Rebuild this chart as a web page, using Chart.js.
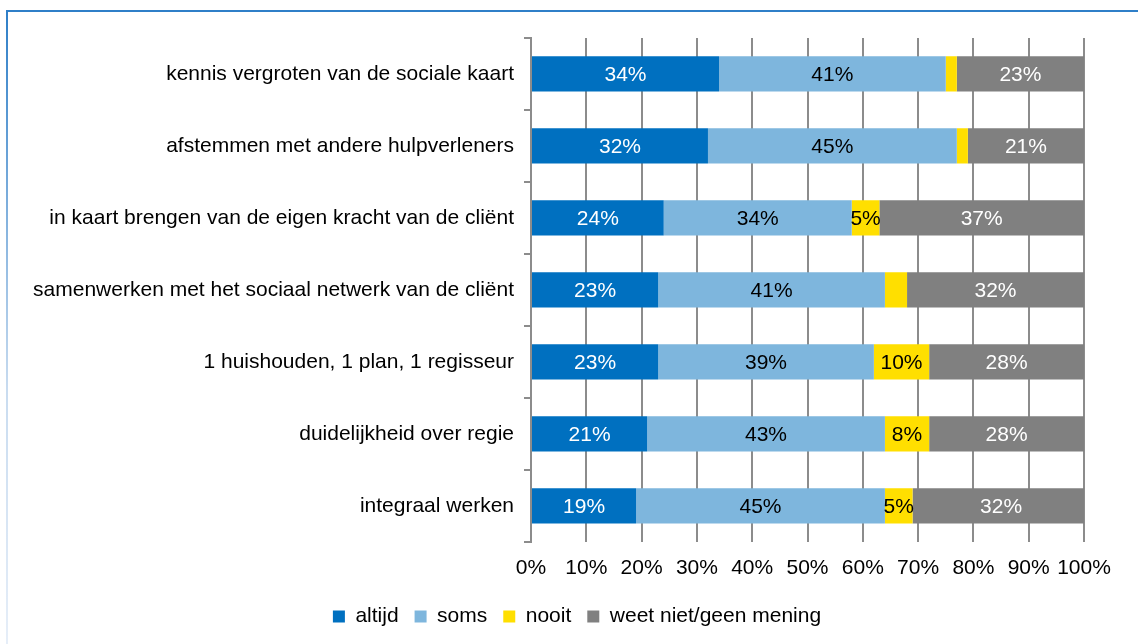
<!DOCTYPE html>
<html>
<head>
<meta charset="utf-8">
<script src="https://cdn.jsdelivr.net/npm/chart.js@4/dist/chart.umd.min.js"></script>
<style>
  html, body { margin: 0; padding: 0; background: #fff; }
  body { width: 1138px; height: 644px; position: relative; overflow: hidden; font-family: "Liberation Sans", Arial, sans-serif; }
  #frame {
    position: absolute; left: 6px; top: 10px; width: 1132px; height: 634px;
    border-top: 2px solid #2f7fc8;
    box-sizing: border-box;
  }
  #frame:before {
    content: ""; position: absolute; left: 0; top: 0; width: 2px; height: 100%;
    background: linear-gradient(#2f7fc8, #c9dcf0 60%, #e6eef8);
  }
  #wrap { position: absolute; left: 2px; top: 0; width: 1130px; height: 632px; }
</style>
</head>
<body>
<div id="frame"><div id="wrap"><canvas id="bargraph"></canvas></div></div>
<script>
const categories = [
  "kennis vergroten van de sociale kaart",
  "afstemmen met andere hulpverleners",
  "in kaart brengen van de eigen kracht van de cliënt",
  "samenwerken met het sociaal netwerk van de cliënt",
  "1 huishouden, 1 plan, 1 regisseur",
  "duidelijkheid over regie",
  "integraal werken"
];
const altijd = [34, 32, 24, 23, 23, 21, 19];
const soms = [41, 45, 34, 41, 39, 43, 45];
const nooit = [2, 2, 5, 4, 10, 8, 5];
const weetNiet = [23, 21, 37, 32, 28, 28, 32];
const seriesNames = ["altijd", "soms", "nooit", "weet niet/geen mening"];

const colors = ['#0070c0', '#7eb6dd', '#ffdf00', '#808080'];
const labelColors = ['#ffffff', '#000000', '#000000', '#ffffff'];

const FONT = "'Liberation Sans', Arial, sans-serif";
const FS = 21;

// draws the % labels in the bars (skip the tiny ones)
const barLabels = {
  id: 'barLabels',
  afterDatasetsDraw(chart) {
    const ctx = chart.ctx;
    ctx.save();
    ctx.font = FS + "px " + FONT;
    ctx.textAlign = 'center';
    ctx.textBaseline = 'middle';
    chart.data.datasets.forEach((ds, i) => {
      const meta = chart.getDatasetMeta(i);
      meta.data.forEach((bar, j) => {
        const v = ds.data[j];
        if (v < 5) return;
        const x = (bar.x + bar.base) / 2;
        ctx.fillStyle = labelColors[i];
        ctx.fillText(v + '%', x, bar.y + 1);
      });
    });
    ctx.restore();
  }
};

// nudge the legend a bit up and right, like the original
const legendShift = {
  id: 'legendShift',
  afterLayout(chart) {
    const lg = chart.legend;
    lg.top -= 5; lg.bottom -= 5;
    lg.left += 31; lg.right += 31;
  }
};

const bargraph = document.querySelector("#bargraph").getContext('2d');

new Chart(bargraph, {
  type: "bar",
  data: {
    labels: categories,
    datasets: [altijd, soms, nooit, weetNiet].map((d, i) => ({
      label: seriesNames[i],
      data: d,
      backgroundColor: colors[i],
      barPercentage: 0.49,
      categoryPercentage: 1,
      borderWidth: 0
    }))
  },
  plugins: [barLabels, legendShift],
  options: {
    indexAxis: 'y',
    responsive: true,
    maintainAspectRatio: false,
    animation: false,
    layout: { padding: { left: 0, right: 54, top: 26, bottom: 2 } },
    plugins: {
      tooltip: { enabled: false },
      legend: {
        position: 'bottom',
        labels: {
          boxWidth: 12,
          boxHeight: 12,
          padding: 16,
          color: '#000',
          font: { size: FS, family: FONT }
        }
      }
    },
    scales: {
      x: {
        stacked: true,
        min: 0,
        max: 100,
        afterFit(scale) { scale.paddingRight = 0; },
        ticks: {
          stepSize: 10,
          maxRotation: 0,
          minRotation: 0,
          autoSkip: false,
          color: '#000',
          padding: 14,
          font: { size: FS, family: FONT },
          callback: (v) => v + '%'
        },
        grid: { color: '#8c8c8c', lineWidth: 2, drawTicks: false },
        border: { display: false }
      },
      y: {
        stacked: true,
        afterFit(scale) { scale.width = 523; },
        ticks: {
          color: '#000',
          padding: 10,
          font: { size: FS, family: FONT }
        },
        grid: { offset: true, drawOnChartArea: false, drawTicks: true, tickLength: 7, color: '#8c8c8c', lineWidth: 2 },
        border: { display: true, color: '#8c8c8c', width: 2 }
      }
    }
  }
});
</script>
</body>
</html>
